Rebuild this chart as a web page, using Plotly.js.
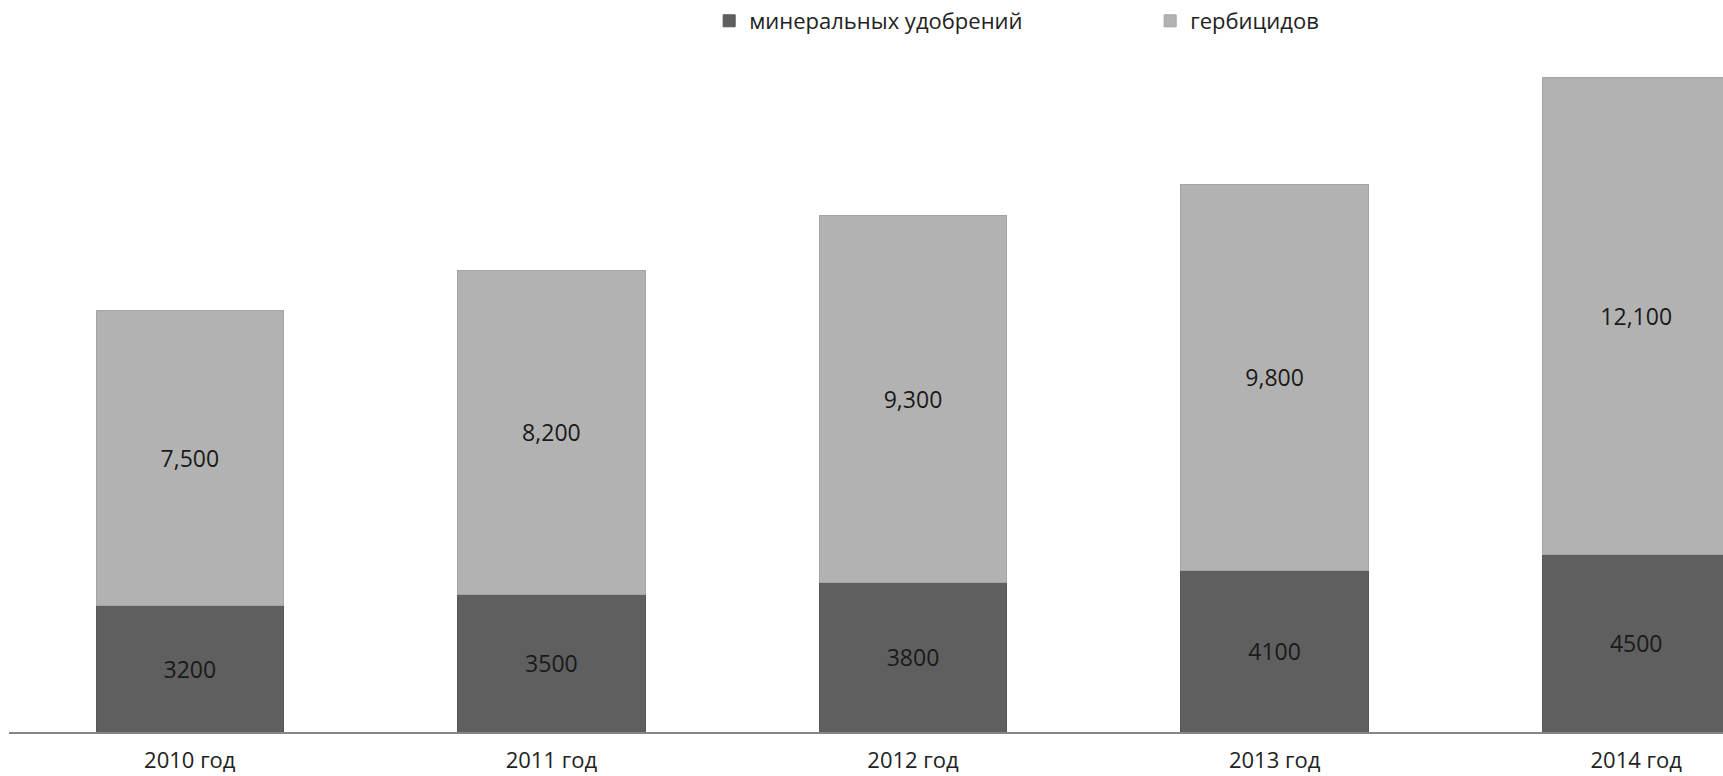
<!DOCTYPE html>
<html>
<head>
<meta charset="utf-8">
<script src="https://cdn.plot.ly/plotly-3.0.1.min.js"></script>
<style>html,body{margin:0;padding:0;background:#fff;}#chart{width:1723px;height:776px;}</style>
</head>
<body>
<div id="chart"></div>
<script>
const years = ["2010 год", "2011 год", "2012 год", "2013 год", "2014 год"];
const seriesNames = ["минеральных удобрений", "гербицидов"];
const mineral = [3200, 3500, 3800, 4100, 4500];
const herbicide = [7500, 8200, 9300, 9800, 12100];

const FONT = "Open Sans, Noto Sans, sans-serif";

const traces = [
  {
    type: "bar",
    name: seriesNames[0],
    x: years,
    y: mineral,
    marker: {color: "#5f5f5f", line: {color: "#575757", width: 1}},
    texttemplate: "%{y:d}",
    textposition: "inside",
    insidetextanchor: "middle",
    textangle: 0,
    insidetextfont: {family: FONT, size: 23, color: "#1a1a1a"},
    hoverinfo: "skip"
  },
  {
    type: "bar",
    name: seriesNames[1],
    x: years,
    y: herbicide,
    marker: {color: "#b2b2b2", line: {color: "#a4a4a4", width: 1}},
    texttemplate: "%{y:,}",
    textposition: "inside",
    insidetextanchor: "middle",
    textangle: 0,
    insidetextfont: {family: FONT, size: 23, color: "#1a1a1a"},
    hoverinfo: "skip"
  }
];

const layout = {
  width: 1723,
  height: 776,
  margin: {l: 9, r: 0, t: 62, b: 44, pad: 0},
  paper_bgcolor: "#ffffff",
  plot_bgcolor: "#ffffff",
  barmode: "stack",
  bargap: 0.482,
  showlegend: true,
  font: {family: FONT, size: 22, color: "#222222"},
  legend: {
    orientation: "h",
    x: 0.4085,
    xanchor: "left",
    y: 1.0613,
    yanchor: "middle",
    entrywidth: 396,
    entrywidthmode: "pixels",
    itemwidth: 30,
    traceorder: "normal",
    font: {family: FONT, size: 22, color: "#222222"},
    bgcolor: "rgba(0,0,0,0)"
  },
  xaxis: {
    type: "category",
    range: [-0.5, 4.240],
    showline: true,
    linecolor: "#858585",
    linewidth: 2,
    ticks: "",
    showgrid: false,
    zeroline: false,
    ticklabelstandoff: 8,
    tickfont: {family: FONT, size: 22, color: "#222222"},
    fixedrange: true
  },
  yaxis: {
    range: [0, 17000],
    visible: false,
    showgrid: false,
    zeroline: false,
    fixedrange: true
  }
};

Plotly.newPlot("chart", traces, layout, {displayModeBar: false, staticPlot: true});
</script>
</body>
</html>
